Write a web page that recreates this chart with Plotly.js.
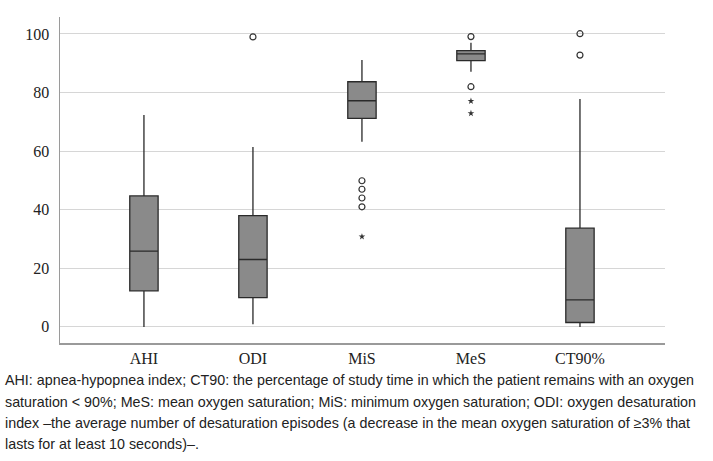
<!DOCTYPE html>
<html>
<head>
<meta charset="utf-8">
<script src="https://cdn.plot.ly/plotly-3.0.1.min.js"></script>
<style>html,body{margin:0;padding:0;background:#fff;}#chart{width:713px;height:461px;}</style>
</head>
<body>
<div id="chart"></div>
<script>
var categories = ["AHI", "ODI", "MiS", "MeS", "CT90%"];
var lowerWhisker = [0, 0.9, 63.2, 87.1, 0];
var q1Values = [12.3, 10, 71.2, 90.9, 1.5];
var medianValues = [25.9, 23, 77.2, 93.2, 9.2];
var q3Values = [44.7, 38, 83.7, 94.3, 33.7];
var upperWhisker = [72.3, 61.4, 91.1, 97, 77.8];

var outlierCats = ["ODI", "MiS", "MiS", "MiS", "MiS", "MeS", "MeS", "CT90%", "CT90%"];
var outlierValues = [99, 49.9, 47, 44, 41, 99.1, 82, 100.1, 92.8];
var extremeCats = ["MiS", "MeS", "MeS"];
var extremeValues = [30.8, 77.1, 72.9];

var captionLines = [
  "AHI: apnea-hypopnea index; CT90: the percentage of study time in which the patient remains with an oxygen",
  "saturation &lt; 90%; MeS: mean oxygen saturation; MiS: minimum oxygen saturation; ODI: oxygen desaturation",
  "index \u2013the average number of desaturation episodes (a decrease in the mean oxygen saturation of \u22653% that",
  "lasts for at least 10 seconds)\u2013."
];
var captionY = [380, 402, 423, 444];

var traces = [
  {
    type: "box",
    x: categories,
    q1: q1Values,
    median: medianValues,
    q3: q3Values,
    lowerfence: lowerWhisker,
    upperfence: upperWhisker,
    width: 0.26,
    whiskerwidth: 0,
    fillcolor: "#8a8a8a",
    line: {color: "#2a2a2a", width: 1.3},
    hoverinfo: "skip",
    showlegend: false
  },
  {
    type: "scatter",
    mode: "markers",
    x: outlierCats,
    y: outlierValues,
    marker: {symbol: "circle-open", size: 6, color: "#333333", line: {width: 1.2, color: "#333333"}},
    showlegend: false,
    hoverinfo: "skip"
  },
  {
    type: "scatter",
    mode: "markers",
    x: extremeCats,
    y: extremeValues,
    marker: {symbol: "star", size: 5, color: "#333333"},
    showlegend: false,
    hoverinfo: "skip"
  }
];

var annotations = captionLines.map(function (t, i) {
  return {
    text: t,
    xref: "paper", yref: "paper",
    x: -57 / 605, y: (343 - captionY[i]) / 326,
    xanchor: "left", yanchor: "middle",
    showarrow: false, align: "left",
    font: {family: "Liberation Sans, sans-serif", size: 14.3, color: "#222"}
  };
});

var layout = {
  width: 713, height: 461,
  margin: {l: 60, r: 48, t: 17, b: 118},
  paper_bgcolor: "#ffffff",
  plot_bgcolor: "#ffffff",
  font: {family: "Liberation Serif, Times New Roman, serif", size: 16, color: "#222"},
  xaxis: {
    type: "category",
    categoryarray: categories,
    range: [-0.77, 4.78],
    showgrid: false,
    showline: true, linecolor: "#9a9a9a", linewidth: 1.5,
    ticks: "", zeroline: false,
    tickfont: {family: "Liberation Serif, serif", size: 16, color: "#222"}
  },
  yaxis: {
    range: [-5.5, 105.8],
    tickvals: [0, 20, 40, 60, 80, 100],
    showgrid: true, gridcolor: "#d6d6d6", gridwidth: 1,
    showline: true, linecolor: "#9a9a9a", linewidth: 1.5,
    zeroline: false, ticks: "",
    ticklabelstandoff: 6,
    tickfont: {family: "Liberation Serif, serif", size: 16, color: "#222"}
  },
  annotations: annotations
};

Plotly.newPlot("chart", traces, layout, {staticPlot: true, displayModeBar: false});
</script>
</body>
</html>
